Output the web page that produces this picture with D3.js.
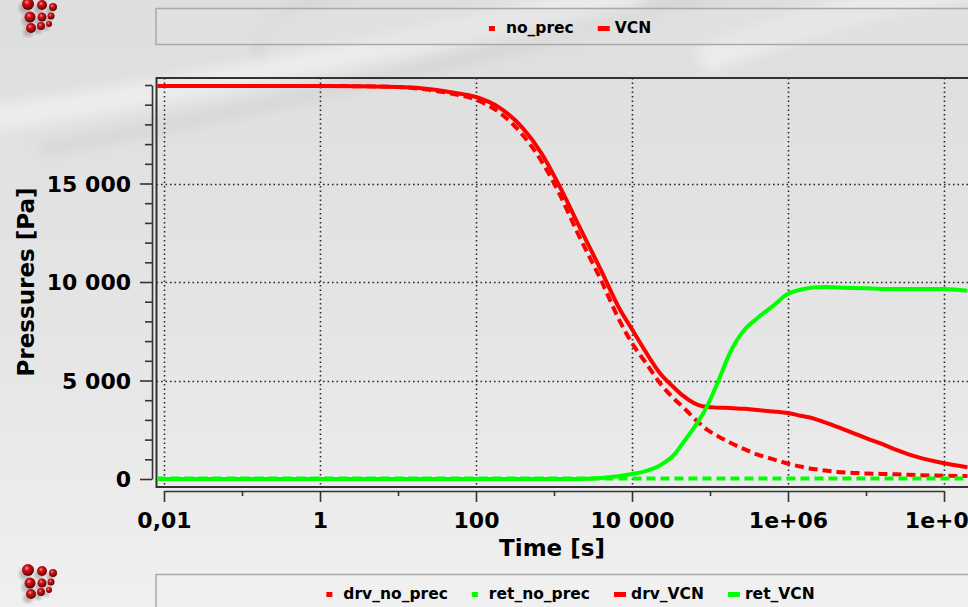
<!DOCTYPE html>
<html>
<head>
<meta charset="utf-8">
<script src="https://cdn.jsdelivr.net/npm/d3@7"></script>
<style>
  body { margin: 0; background: #e4e4e4; overflow: hidden; }
  text { font-family: "DejaVu Sans", sans-serif; font-weight: bold; fill: #000; }
</style>
</head>
<body>
<div id="chart"></div>
<script>
const width = 968, height = 607;

// time points (s) shared by every series
const times = [0.008, 0.01, 0.1, 1, 10, 20, 50, 100, 200, 400, 700, 1200, 2000, 4000, 7000,
    10000, 15000, 23000, 35000, 45000, 70000, 92000, 130000, 180000, 280000, 400000, 650000,
    1e6, 1.5e6, 2.1e6, 3e6, 4.3e6, 7e6, 1e7, 1.6e7, 2.5e7, 4.5e7, 1e8, 2e8];

const drvNoPrec = [19950, 19950, 19950, 19950, 19900, 19800, 19550, 19250, 18600, 17450, 16100, 14400, 12500, 10100, 8000,
    6900, 5900, 4850, 4050, 3650, 2900, 2500, 2150, 1850, 1500, 1250, 1000,
    780, 620, 510, 430, 360, 310, 280, 260, 240, 200, 170, 150];

const retNoPrec = [20, 20, 20, 20, 20, 20, 20, 20, 20, 20, 20, 20, 20, 20, 20,
    20, 20, 20, 20, 20, 20, 20, 20, 20, 20, 20, 20,
    20, 20, 20, 20, 20, 20, 20, 20, 20, 20, 20, 20];

const drvVCN = [19950, 19950, 19950, 19950, 19900, 19840, 19620, 19390, 18850, 17800, 16500, 14800, 13000, 10600, 8600,
    7600, 6450, 5350, 4620, 4230, 3760, 3650, 3620, 3610, 3560, 3500, 3430,
    3350, 3200, 3080, 2870, 2640, 2320, 2080, 1780, 1470, 1120, 800, 600];

const retVCN = [0, 0, 0, 0, 0, 0, 0, 0, 0, 0, 0, 0, 0, 50, 150,
    250, 400, 700, 1250, 1830, 2900, 3700, 5050, 6400, 7600, 8150, 8800,
    9400, 9620, 9720, 9740, 9720, 9700, 9680, 9650, 9650, 9640, 9650, 9560];

const xMajor = [0.01, 1, 100, 1e4, 1e6, 1e8];
const xLabels = ["0,01", "1", "100", "10 000", "1e+06", "1e+08"];
const xMinor = [0.1, 10, 1000, 1e5, 1e7];
const yMajor = [0, 5000, 10000, 15000];
const yLabels = ["0", "5 000", "10 000", "15 000"];
const yMinor = [1000, 2000, 3000, 4000, 6000, 7000, 8000, 9000, 11000, 12000, 13000, 14000, 16000, 17000, 18000, 19000, 20000];

const topLegend = ["no_prec", "VCN"];
const series = [
    { name: "drv_no_prec", values: drvNoPrec, color: "#ff0000", dashed: true },
    { name: "ret_no_prec", values: retNoPrec, color: "#00ff00", dashed: true },
    { name: "drv_VCN", values: drvVCN, color: "#ff0000", dashed: false },
    { name: "ret_VCN", values: retVCN, color: "#00ff00", dashed: false }
];

const frame = { left: 156.5, top: 78, bottom: 487, right: 990 };

let svg = d3.select("#chart")
    .append("svg")
    .attr("width", width)
    .attr("height", height);

let defs = svg.append("defs");

let bg = defs.append("linearGradient").attr("id", "bg")
    .attr("x1", 0).attr("y1", 0).attr("x2", 0).attr("y2", 1);
bg.append("stop").attr("offset", "0%").attr("stop-color", "#dedede");
bg.append("stop").attr("offset", "55%").attr("stop-color", "#e5e5e5");
bg.append("stop").attr("offset", "100%").attr("stop-color", "#f0f0f0");

defs.append("filter").attr("id", "blur")
    .append("feGaussianBlur").attr("stdDeviation", 6);
defs.append("filter").attr("id", "shadow")
    .append("feGaussianBlur").attr("stdDeviation", 1.6);

let ball = defs.append("radialGradient").attr("id", "ball")
    .attr("cx", "40%").attr("cy", "35%").attr("r", "65%");
ball.append("stop").attr("offset", "0%").attr("stop-color", "#ff9a9a");
ball.append("stop").attr("offset", "30%").attr("stop-color", "#d8141c");
ball.append("stop").attr("offset", "100%").attr("stop-color", "#600000");

defs.append("clipPath").attr("id", "plotclip")
    .append("rect")
    .attr("x", frame.left + 1).attr("y", frame.top + 1)
    .attr("width", frame.right - frame.left).attr("height", frame.bottom - frame.top - 2);

svg.append("rect").attr("width", width).attr("height", height).attr("fill", "url(#bg)");

// soft background swooshes
let deco = svg.append("g").attr("filter", "url(#blur)");
deco.append("path")
    .attr("d", "M -20 120 C 200 90, 420 40, 640 -10")
    .attr("fill", "none").attr("stroke", "#ffffff").attr("stroke-opacity", 0.4).attr("stroke-width", 26);
deco.append("path")
    .attr("d", "M 40 150 C 260 110, 520 50, 760 -20")
    .attr("fill", "none").attr("stroke", "#bdbdbd").attr("stroke-opacity", 0.25).attr("stroke-width", 14);
deco.append("path")
    .attr("d", "M 260 60 C 250 20, 300 0, 360 -10")
    .attr("fill", "none").attr("stroke", "#c4c4c4").attr("stroke-opacity", 0.35).attr("stroke-width", 10);
deco.append("path")
    .attr("d", "M 700 60 C 800 20, 900 0, 990 -20")
    .attr("fill", "none").attr("stroke", "#ffffff").attr("stroke-opacity", 0.4).attr("stroke-width", 30);

let x = d3.scaleLog()
    .domain([0.01, 1e8])
    .range([164, 944]);

let y = d3.scaleLinear()
    .domain([0, 20000])
    .range([479, 85]);

// legend boxes
svg.append("rect")
    .attr("x", 156).attr("y", 8.5).attr("width", 830).attr("height", 36)
    .attr("fill", "#e2e2e2").attr("fill-opacity", 0.5)
    .attr("stroke", "#a9a9a9").attr("stroke-width", 1.5);

svg.append("rect")
    .attr("x", 156).attr("y", 574.5).attr("width", 830).attr("height", 50)
    .attr("fill", "#f0f0f0")
    .attr("stroke", "#a9a9a9").attr("stroke-width", 1.5);

// grid
let grid = svg.append("g")
    .attr("stroke", "#2a2a2a")
    .attr("stroke-width", 1.6)
    .attr("stroke-dasharray", "1.6,2.9");

grid.selectAll("line.v").data(xMajor).enter()
    .append("line").attr("class", "v")
    .attr("x1", d => Math.round(x(d)) + 0.5).attr("x2", d => Math.round(x(d)) + 0.5)
    .attr("y1", frame.top).attr("y2", frame.bottom);

grid.selectAll("line.h").data(yMajor.slice(1)).enter()
    .append("line").attr("class", "h")
    .attr("x1", frame.left).attr("x2", width)
    .attr("y1", d => Math.round(y(d)) + 0.5).attr("y2", d => Math.round(y(d)) + 0.5);

// plot frame
svg.append("path")
    .attr("d", `M ${width} ${frame.top} H ${frame.left} V ${frame.bottom} H ${width}`)
    .attr("fill", "none")
    .attr("stroke", "#333")
    .attr("stroke-width", 2);

// series
let line = d3.line()
    .x((d, i) => x(times[i]))
    .y(d => y(d))
    .curve(d3.curveMonotoneX);

svg.append("g")
    .attr("clip-path", "url(#plotclip)")
    .selectAll("path")
    .data(series)
    .enter()
    .append("path")
    .attr("d", d => line(d.values))
    .attr("fill", "none")
    .attr("stroke", d => d.color)
    .attr("stroke-width", 4)
    .attr("stroke-dasharray", d => d.dashed ? "9,5" : null);

// x axis
let xAxis = svg.append("g")
    .attr("transform", "translate(0, 491)")
    .call(d3.axisBottom(x).tickValues(xMajor).tickFormat((d, i) => xLabels[i]).tickSize(11).tickSizeOuter(0));

let xMinorAxis = svg.append("g")
    .attr("transform", "translate(0, 491)")
    .call(d3.axisBottom(x).tickValues(xMinor).tickFormat("").tickSize(5).tickSizeOuter(0));
xMinorAxis.select(".domain").remove();

xAxis.selectAll("text")
    .attr("y", 37)
    .attr("dy", 0)
    .style("font-size", "22px")
    .style("font-family", "DejaVu Sans")
    .style("font-weight", "bold");

// y axis
let yAxis = svg.append("g")
    .attr("transform", "translate(152, 0)")
    .call(d3.axisLeft(y).tickValues(yMajor).tickFormat((d, i) => yLabels[i]).tickSize(12).tickSizeOuter(0));

let yMinorAxis = svg.append("g")
    .attr("transform", "translate(152, 0)")
    .call(d3.axisLeft(y).tickValues(yMinor).tickFormat("").tickSize(7).tickSizeOuter(0));
yMinorAxis.select(".domain").remove();

yAxis.selectAll("text")
    .attr("x", -21)
    .attr("dy", "0.36em")
    .style("font-size", "22px")
    .style("font-family", "DejaVu Sans")
    .style("font-weight", "bold");

svg.selectAll(".domain, .tick line")
    .attr("stroke", "#333")
    .attr("stroke-width", 1.6);

// axis titles
svg.append("text")
    .attr("transform", "translate(34, 282)rotate(-90)")
    .style("text-anchor", "middle")
    .style("font-size", "23px")
    .text("Pressures [Pa]");

svg.append("text")
    .attr("x", 552)
    .attr("y", 556)
    .style("text-anchor", "middle")
    .style("font-size", "23px")
    .text("Time [s]");

/**
 * Lay out legend entries in a row, centred on cx
 */
function drawLegend(items, cx, baseline) {
    let g = svg.append("g");
    let entries = g.selectAll("g").data(items).enter().append("g");
    entries.append("rect")
        .attr("y", baseline - 7)
        .attr("width", d => d.dashed ? 6 : 12)
        .attr("height", 5)
        .attr("fill", d => d.color);
    entries.append("text")
        .attr("y", baseline)
        .style("font-size", "15.5px")
        .text(d => d.name);

    let pos = 0;
    let offsets = [];
    entries.each(function() {
        let w = d3.select(this).select("text").node().getComputedTextLength();
        offsets.push(pos);
        pos += 17 + w + 24;
    });
    let total = pos - 24;
    let start = cx - total / 2;
    entries.each(function(d, i) {
        let e = d3.select(this);
        e.select("rect").attr("x", start + offsets[i]);
        e.select("text").attr("x", start + offsets[i] + 17);
    });
}

drawLegend([
    { name: topLegend[0], color: "#ff0000", dashed: true },
    { name: topLegend[1], color: "#ff0000", dashed: false }
], 570, 33);

drawLegend(series, 570.5, 599);

// logos: 3x3 red spheres
const logoBalls = [[28, 4, 6], [42, 5, 5], [53, 7, 4], [30, 17, 5.5], [42, 17, 4.5], [51, 16, 3.5], [31, 28, 5], [41, 26, 4], [49, 24, 3]];

function drawLogo(dy) {
    let g = svg.append("g").attr("transform", `translate(0, ${dy})`);
    g.selectAll("circle.s").data(logoBalls).enter()
        .append("circle").attr("class", "s")
        .attr("cx", d => d[0] - 3).attr("cy", d => d[1] + 4).attr("r", d => d[2])
        .attr("fill", "#8a8a8a").attr("fill-opacity", 0.5)
        .attr("filter", "url(#shadow)");
    g.selectAll("circle.b").data(logoBalls).enter()
        .append("circle").attr("class", "b")
        .attr("cx", d => d[0]).attr("cy", d => d[1]).attr("r", d => d[2])
        .attr("fill", "url(#ball)");
}

drawLogo(0);
drawLogo(566);
</script>
</body>
</html>
